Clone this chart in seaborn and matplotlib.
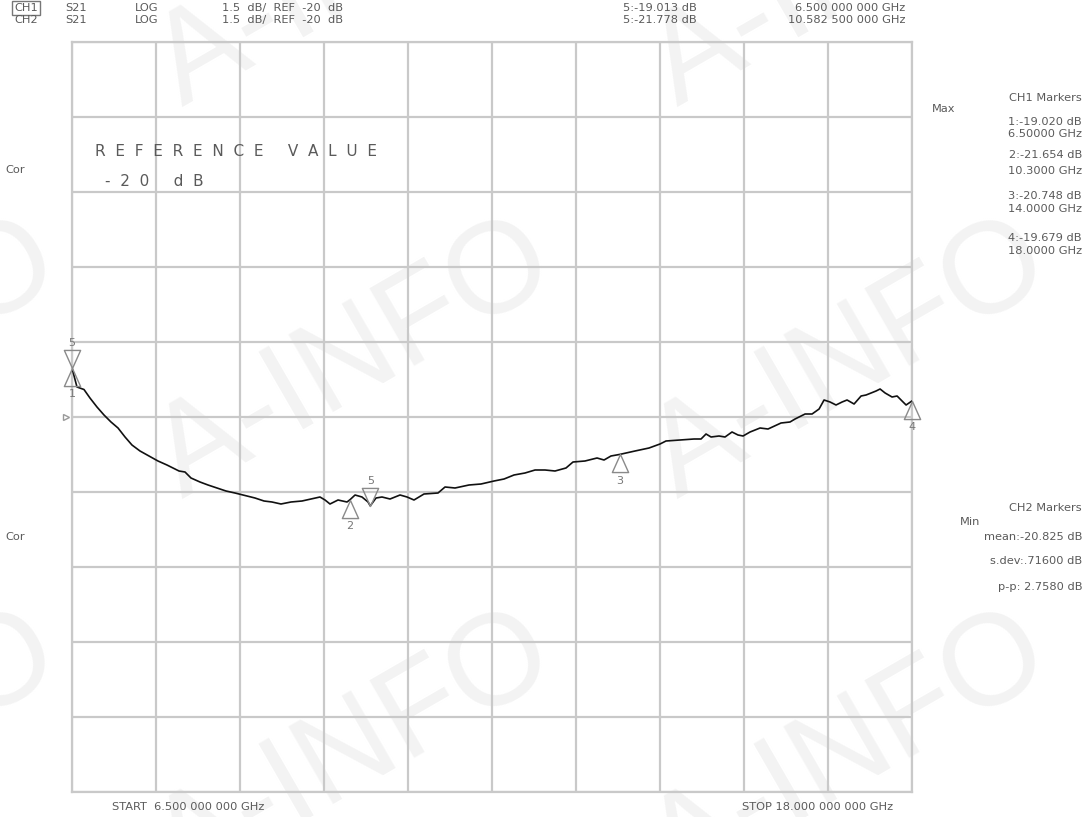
import numpy as np
import pandas as pd
import matplotlib
matplotlib.use("Agg")
import matplotlib.pyplot as plt
import matplotlib.transforms as mtransforms
from matplotlib.path import Path
import seaborn as sns

# trace (GHz, dB)
freq_ghz = [
    6.500, 6.568, 6.664, 6.746, 6.842, 6.938, 7.034, 7.130, 7.226, 7.321,
    7.431, 7.554, 7.677, 7.800, 7.965, 8.047, 8.129, 8.252, 8.362, 8.485,
    8.608, 8.731, 8.841, 9.005, 9.129, 9.238, 9.361, 9.498, 9.649, 9.772,
    9.895, 9.964, 10.032, 10.142, 10.265, 10.306, 10.375, 10.470, 10.553, 10.583,
    10.662, 10.744, 10.854, 10.991, 11.087, 11.182, 11.319, 11.511, 11.607, 11.744,
    11.935, 12.100, 12.278, 12.415, 12.551, 12.702, 12.839, 12.976, 13.113, 13.263,
    13.359, 13.523, 13.688, 13.784, 13.879, 14.000, 14.208, 14.400, 14.550, 14.632,
    14.824, 15.016, 15.112, 15.180, 15.249, 15.358, 15.440, 15.536, 15.618, 15.687,
    15.783, 15.920, 16.029, 16.207, 16.330, 16.399, 16.536, 16.632, 16.728, 16.796,
    16.878, 16.960, 17.043, 17.111, 17.207, 17.303, 17.371, 17.440, 17.508, 17.563,
    17.632, 17.727, 17.796, 17.864, 17.919, 18.000,
]
s21_db = [
    -19.02, -19.40, -19.45, -19.62, -19.80, -19.96, -20.10, -20.22, -20.40, -20.56,
    -20.68, -20.78, -20.88, -20.96, -21.08, -21.10, -21.22, -21.30, -21.36, -21.42,
    -21.48, -21.52, -21.56, -21.62, -21.68, -21.70, -21.74, -21.70, -21.68, -21.64,
    -21.60, -21.66, -21.74, -21.66, -21.70, -21.654, -21.56, -21.60, -21.70, -21.778,
    -21.62, -21.60, -21.64, -21.56, -21.60, -21.66, -21.54, -21.52, -21.40, -21.42,
    -21.36, -21.34, -21.28, -21.24, -21.16, -21.12, -21.06, -21.06, -21.08, -21.02,
    -20.90, -20.88, -20.82, -20.86, -20.78, -20.748, -20.68, -20.62, -20.54, -20.48,
    -20.46, -20.44, -20.44, -20.34, -20.40, -20.38, -20.40, -20.30, -20.36, -20.38,
    -20.30, -20.22, -20.24, -20.12, -20.10, -20.04, -19.94, -19.94, -19.84, -19.66,
    -19.70, -19.76, -19.70, -19.66, -19.74, -19.58, -19.56, -19.52, -19.48, -19.44,
    -19.52, -19.60, -19.58, -19.68, -19.76, -19.679,
]

# CH1 markers (delta, pointing up)
mk_num = ["1", "2", "3", "4"]
mk_freq = [6.5, 10.3, 14.0, 18.0]
mk_db = [-19.020, -21.654, -20.748, -19.679]
# marker 5 on CH1 and CH2 (nabla, pointing down)
m5_freq = [6.5, 10.5825]
m5_db = [-19.013, -21.778]

ref_db = -20.0
db_per_div = 1.5
start_ghz, stop_ghz = 6.5, 18.0

grey_txt = "#5a5a5a"
grid_col = "#c9c9c9"

sns.set_style("white")
plt.rcParams["font.family"] = ["DejaVu Sans"]

W, H = 1089, 817
fig = plt.figure(figsize=(W / 100, H / 100), dpi=100)
fig.patch.set_facecolor("white")


def px(x, y):
    return x / W, 1 - y / H


# watermark behind everything
for cx in [-140, 355, 850]:
    for cy in [-31, 361, 753]:
        fig.text(*px(cx, cy), "A-INFO", fontsize=93, rotation=30,
                 family="Liberation Sans", color="#f3f3f3",
                 ha="center", va="center", rotation_mode="anchor", zorder=-5)

ax = fig.add_axes([72 / W, 1 - 792 / H, 840 / W, 750 / H])
ax.set_facecolor("none")

df = pd.DataFrame({"freq": freq_ghz, "s21": s21_db})
sns.lineplot(data=df, x="freq", y="s21", ax=ax, color="#111111", lw=1.2,
             estimator=None, sort=False, zorder=3)

ax.set_xlim(start_ghz, stop_ghz)
ax.set_ylim(ref_db - 5 * db_per_div, ref_db + 5 * db_per_div)
ax.set_xticks(np.linspace(start_ghz, stop_ghz, 11))
ax.set_yticks(np.linspace(ref_db - 5 * db_per_div, ref_db + 5 * db_per_div, 11))
ax.grid(True, color=grid_col, lw=1.6)
ax.tick_params(length=0, labelbottom=False, labelleft=False)
ax.set_xlabel("")
ax.set_ylabel("")
for sp in ax.spines.values():
    sp.set_color(grid_col)
    sp.set_linewidth(1.6)

# marker glyphs with apex on the trace point
up_tri = Path([(0, 0), (-0.45, -1), (0.45, -1), (0, 0)],
              [Path.MOVETO, Path.LINETO, Path.LINETO, Path.CLOSEPOLY])
down_tri = Path([(0, 0), (-0.45, 1), (0.45, 1), (0, 0)],
                [Path.MOVETO, Path.LINETO, Path.LINETO, Path.CLOSEPOLY])

ax.plot(mk_freq, mk_db, ls="none", marker=up_tri, ms=26, mfc="none",
        mec="#8a8a8a", mew=1.0, clip_on=False, zorder=4)
ax.plot(m5_freq, m5_db, ls="none", marker=down_tri, ms=26, mfc="none",
        mec="#8a8a8a", mew=1.0, clip_on=False, zorder=4)

for n, f, v in zip(mk_num, mk_freq, mk_db):
    ax.annotate(n, (f, v), xytext=(0, -19), textcoords="offset points",
                ha="center", va="center", fontsize=8, color="#777777",
                annotation_clip=False)
for f, v in zip(m5_freq, m5_db):
    ax.annotate("5", (f, v), xytext=(0, 18), textcoords="offset points",
                ha="center", va="center", fontsize=8, color="#777777",
                annotation_clip=False)

# reference level indicator on the left edge
ref_tr = mtransforms.offset_copy(ax.transData, fig=fig, x=-6, y=0, units="dots")
ax.plot([start_ghz], [ref_db], ls="none", marker=">", ms=5, mfc="none",
        mec="#9a9a9a", mew=1.0, transform=ref_tr, clip_on=False)

fs = 8.2
kw = dict(fontsize=fs, color=grey_txt, va="center")

# header
fig.text(*px(26, 8), "CH1", ha="center",
         bbox=dict(boxstyle="square,pad=0.15", fc="none", ec="#777777", lw=1.0), **kw)
fig.text(*px(26, 20), "CH2", ha="center", **kw)
for y in (8, 20):
    fig.text(*px(65, y), "S21", ha="left", **kw)
    fig.text(*px(135, y), "LOG", ha="left", **kw)
    fig.text(*px(222, y), "1.5  dB/  REF  -20  dB", ha="left", **kw)
fig.text(*px(697, 8), "5:-19.013 dB", ha="right", **kw)
fig.text(*px(905, 8), "6.500 000 000 GHz", ha="right", **kw)
fig.text(*px(697, 20), "5:-21.778 dB", ha="right", **kw)
fig.text(*px(905, 20), "10.582 500 000 GHz", ha="right", **kw)

fig.text(*px(5, 170), "Cor", ha="left", **kw)
fig.text(*px(5, 537), "Cor", ha="left", **kw)

fig.text(*px(95, 152), "R  E  F  E  R  E  N  C  E     V  A  L  U  E", ha="left",
         fontsize=11, color=grey_txt, va="center")
fig.text(*px(105, 181), "-  2  0     d  B", ha="left",
         fontsize=11, color=grey_txt, va="center")

# marker readouts
rx = 1082
fig.text(*px(rx, 98), "CH1 Markers", ha="right", **kw)
fig.text(*px(932, 109), "Max", ha="left", **kw)
fig.text(*px(rx, 122), "1:-19.020 dB", ha="right", **kw)
fig.text(*px(rx, 134), "6.50000 GHz", ha="right", **kw)
fig.text(*px(rx, 155), "2:-21.654 dB", ha="right", **kw)
fig.text(*px(rx, 171), "10.3000 GHz", ha="right", **kw)
fig.text(*px(rx, 196), "3:-20.748 dB", ha="right", **kw)
fig.text(*px(rx, 209), "14.0000 GHz", ha="right", **kw)
fig.text(*px(rx, 238), "4:-19.679 dB", ha="right", **kw)
fig.text(*px(rx, 251), "18.0000 GHz", ha="right", **kw)

fig.text(*px(rx, 508), "CH2 Markers", ha="right", **kw)
fig.text(*px(960, 522), "Min", ha="left", **kw)
fig.text(*px(rx, 537), "mean:-20.825 dB", ha="right", **kw)
fig.text(*px(rx, 561), "s.dev:.71600 dB", ha="right", **kw)
fig.text(*px(rx, 587), "p-p: 2.7580 dB", ha="right", **kw)

fig.text(*px(112, 807), "START  6.500 000 000 GHz", ha="left", **kw)
fig.text(*px(893, 807), "STOP 18.000 000 000 GHz", ha="right", **kw)

fig.savefig("out.png", dpi=100, facecolor="white")
